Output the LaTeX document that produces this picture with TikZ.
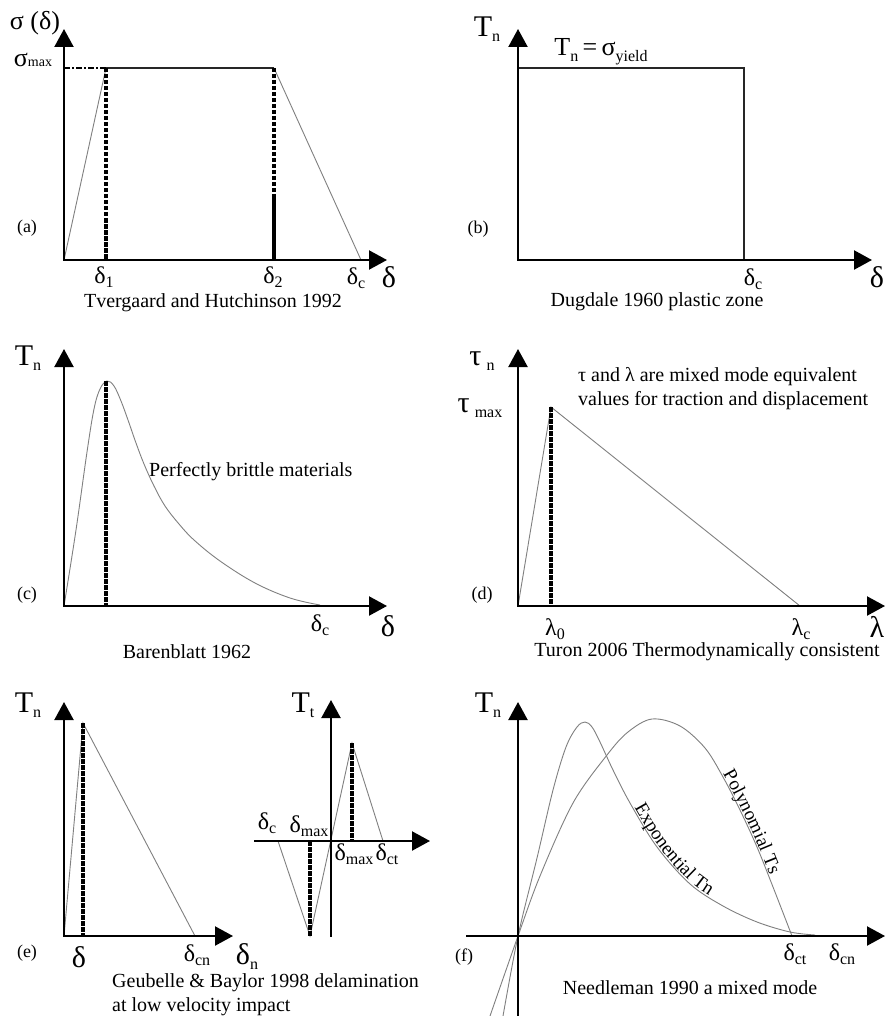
\documentclass[tikz,border=0pt]{standalone}
\usepackage{fontspec}
\setmainfont{Liberation Serif}
\usetikzlibrary{arrows.meta,decorations.text}
\newcommand{\sbs}[2][-4pt]{\raisebox{#1}{\fontsize{16}{16}\selectfont #2}}
\tikzset{
  axis/.style={line width=2.2pt, line cap=rect, -{Triangle[length=18pt,width=19pt]}},
  plainaxis/.style={line width=2.2pt, line cap=rect},
  thin curve/.style={line width=0.9pt, draw=black!50},
  flat/.style={line width=1.3pt, draw=black!85},
  thickdash/.style={line width=4pt, dash pattern=on 4.5pt off 1.5pt},
  levdash/.style={line width=2.8pt, dash pattern=on 6pt off 2pt on 2pt off 2pt},
  lab/.style={font=\fontsize{20}{24}\selectfont, inner sep=0pt},
  biglab/.style={font=\fontsize{30}{32}\selectfont, inner sep=0pt},
  axlab/.style={font=\fontsize{26}{28}\selectfont, inner sep=0pt},
  midlab/.style={font=\fontsize{24}{26}\selectfont, inner sep=0pt},
  plab/.style={font=\fontsize{18}{20}\selectfont, inner sep=0pt},
  curvetext/.style={decorate, decoration={text along path, text align=center, raise=1.5pt}},
}
\begin{document}
\begin{tikzpicture}[x=1pt,y=-1pt]
\useasboundingbox (0,0) rectangle (886,1016);
\fill[white] (0,0) rectangle (886,1016);

%% ---------------- (a) ----------------
\coordinate (a0) at (64,260);
\coordinate (ay) at (64,29);
\coordinate (ax) at (387,260);
\coordinate (a1) at (106,68);
\coordinate (a1b) at (106,260);
\coordinate (a2) at (274,68);
\coordinate (a2m) at (274,197);
\coordinate (a2b) at (274,260);
\coordinate (ac) at (361,260);
\coordinate (asm) at (64,68);
\draw[thin curve] (a0) -- (a1);
\draw[thin curve] (a2) -- (ac);
\draw[flat] (a1) -- (a2);
\draw[thickdash] (a1) -- (a1b);
\draw[thickdash] (a2) -- (a2m);
\draw[line width=4pt] (a2m) -- (a2b);
\draw[levdash] (asm) -- (a1);
\draw[axis] (a0) -- (ay);
\draw[axis] (a0) -- (ax);
\node[axlab] (la1) at (35,23) {σ (δ)};
\node[axlab, anchor=base] (la2) at (33,67) {σ\raisebox{0pt}{\fontsize{14}{14}\selectfont max}};
\node[plab] (la3) at (27,228) {(a)};
\node[midlab] (la4) at (104,277) {δ\sbs{1}};
\node[midlab] (la5) at (273,277) {δ\sbs{2}};
\node[midlab] (la6) at (356,278) {δ\sbs{c}};
\node[biglab] (la7) at (389,277) {δ};
\node[lab] (la8) at (213,303) {Tvergaard and Hutchinson 1992};

%% ---------------- (b) ----------------
\coordinate (b0) at (518,260);
\coordinate (by) at (518,29);
\coordinate (bx) at (872,260);
\coordinate (btl) at (518,68);
\coordinate (btr) at (744,68);
\coordinate (bbr) at (744,260);
\draw[flat] (btl) -- (btr) -- (bbr);
\draw[axis] (b0) -- (by);
\draw[axis] (b0) -- (bx);
\node[biglab] (lb1) at (487,29) {T\sbs[-5pt]{n}};
\node[axlab] (lb2) at (601,52) {T\sbs[-6pt]{n}\,=\,σ\sbs[-6pt]{yield}};
\node[plab] (lb3) at (478,229) {(b)};
\node[midlab] (lb4) at (753,279) {δ\sbs{c}};
\node[biglab] (lb5) at (877,277) {δ};
\node[lab] (lb6) at (657,302) {Dugdale 1960 plastic zone};

%% ---------------- (c) ----------------
\coordinate (c0) at (64,606);
\coordinate (cy) at (64,349);
\coordinate (cx) at (387,606);
\coordinate (cp) at (106,381);
\coordinate (cpb) at (106,606);
\draw[thin curve] plot[smooth, tension=0.6] coordinates {(64,606) (76,530) (87,452) (94,409) (100,389) (107,381) (114,386) (121,401) (128,420) (136,443) (144,464) (154,486) (165,506) (179,524) (194,540) (220,561) (255,583) (290,598) (320,605)};
\draw[thickdash] (cp) -- (cpb);
\draw[axis] (c0) -- (cy);
\draw[axis] (c0) -- (cx);
\node[biglab] (lc1) at (28,358) {T\sbs[-5pt]{n}};
\node[lab, anchor=west] (lc2) at (149,472) {Perfectly brittle materials};
\node[plab] (lc3) at (27,595) {(c)};
\node[midlab] (lc4) at (320,625) {δ\sbs{c}};
\node[biglab] (lc5) at (388,626) {δ};
\node[lab] (lc6) at (187,652) {Barenblatt 1962};

%% ---------------- (d) ----------------
\coordinate (d0) at (518,606);
\coordinate (dy) at (518,349);
\coordinate (dx) at (885,606);
\coordinate (dp) at (551,407);
\coordinate (dpb) at (551,606);
\coordinate (dc) at (800,606);
\draw[thin curve] (d0) -- (dp) -- (dc);
\draw[thickdash] (dp) -- (dpb);
\draw[axis] (d0) -- (dy);
\draw[axis] (d0) -- (dx);
\node[biglab] (ld1) at (482,361) {τ\,\sbs[-5pt]{n}};
\node[biglab] (ld2) at (480,408) {τ\,\sbs[-5pt]{max}};
\node[lab, anchor=west, align=left] (ld3) at (578,389) {τ and λ are mixed mode equivalent\\values for traction and displacement};
\node[plab] (ld4) at (482,595) {(d)};
\node[midlab] (ld5) at (555,629) {λ\sbs{0}};
\node[midlab] (ld6) at (801,629) {λ\sbs{c}};
\node[biglab] (ld7) at (877,627) {λ};
\node[lab] (ld8) at (707,652) {Turon 2006 Thermodynamically consistent};

%% ---------------- (e) ----------------
\coordinate (e0) at (64,936);
\coordinate (ey) at (64,702);
\coordinate (ex) at (233,936);
\coordinate (ep) at (83,723);
\coordinate (epb) at (83,936);
\coordinate (ec) at (195,936);
\draw[thin curve] (e0) -- (ep) -- (ec);
\draw[thickdash] (ep) -- (epb);
\draw[axis] (e0) -- (ey);
\draw[axis] (e0) -- (ex);
\node[biglab] (le1) at (28,705) {T\sbs[-5pt]{n}};
\node[plab] (le2) at (27,953) {(e)};
\node[biglab] (le3) at (79,957) {δ};
\node[midlab] (le4) at (197,955) {δ\sbs{cn}};
\node[biglab] (le5) at (247,957) {δ\sbs[-5pt]{n}};
\node[lab, anchor=west, align=left] (le6) at (112,995) {Geubelle \& Baylor 1998 delamination\\at low velocity impact};

\coordinate (t0) at (331,841);
\coordinate (ty) at (331,700);
\coordinate (tbot) at (331,936);
\coordinate (tx) at (430,841);
\coordinate (tleft) at (255,841);
\coordinate (tp) at (352,743);
\coordinate (tpb) at (352,841);
\coordinate (tn) at (310,936);
\coordinate (tnt) at (310,841);
\coordinate (tcr) at (383,841);
\coordinate (tcl) at (278,841);
\draw[thin curve] (tcl) -- (tn) -- (tp) -- (tcr);
\draw[thickdash] (tp) -- (tpb);
\draw[thickdash] (tnt) -- (tn);
\draw[axis] (tbot) -- (ty);
\draw[axis] (tleft) -- (tx);
\node[biglab] (lt1) at (303,705) {T\sbs[-5pt]{t}};
\node[midlab] (lt2) at (267,823) {δ\sbs{c}};
\node[midlab] (lt3) at (309,826) {δ\sbs{max}};
\node[midlab] (lt4) at (354,854) {δ\sbs{max}};
\node[midlab] (lt5) at (387,854) {δ\sbs{ct}};

%% ---------------- (f) ----------------
\coordinate (f0) at (518,936);
\coordinate (fy) at (518,702);
\coordinate (fbot) at (518,1016);
\coordinate (fx) at (885,936);
\coordinate (fleft) at (467,936);
\draw[thin curve] plot[smooth, tension=0.55] coordinates {(503,1016) (518,936) (537,858) (553,790) (566,747) (577,727) (585,722) (592,727) (600,742) (613,770) (630,803) (657,847) (690,884) (723,906) (757,922) (790,932) (815,935)};
\draw[thin curve] plot[smooth, tension=0.55] coordinates {(490,1016) (518,936) (540,876) (573,803) (607,755) (628,732) (652,719) (680,726) (705,748) (723,777) (740,810) (757,847) (773,887) (792,936)};
\path[curvetext, decoration={text={|\fontsize{19}{19}\selectfont|Exponential Tn}}] plot[smooth, tension=0.55] coordinates {(616,776) (630,803) (657,847) (690,884) (723,906) (740,915)};
\path[curvetext, decoration={text={|\fontsize{19}{19}\selectfont|Polynomial Ts}}] plot[smooth, tension=0.55] coordinates {(705,748) (723,777) (740,810) (757,847) (773,887) (779,905)};
\draw[plainaxis] (f0) -- (fbot);
\draw[axis] (f0) -- (fy);
\draw[axis] (fleft) -- (fx);
\node[biglab] (lf1) at (488,705) {T\sbs[-5pt]{n}};
\node[plab] (lf2) at (464,957) {(f)};
\node[midlab] (lf3) at (795,954) {δ\sbs{ct}};
\node[midlab] (lf4) at (842,954) {δ\sbs{cn}};
\node[lab] (lf5) at (690,988) {Needleman 1990 a mixed mode};
\end{tikzpicture}
\end{document}
